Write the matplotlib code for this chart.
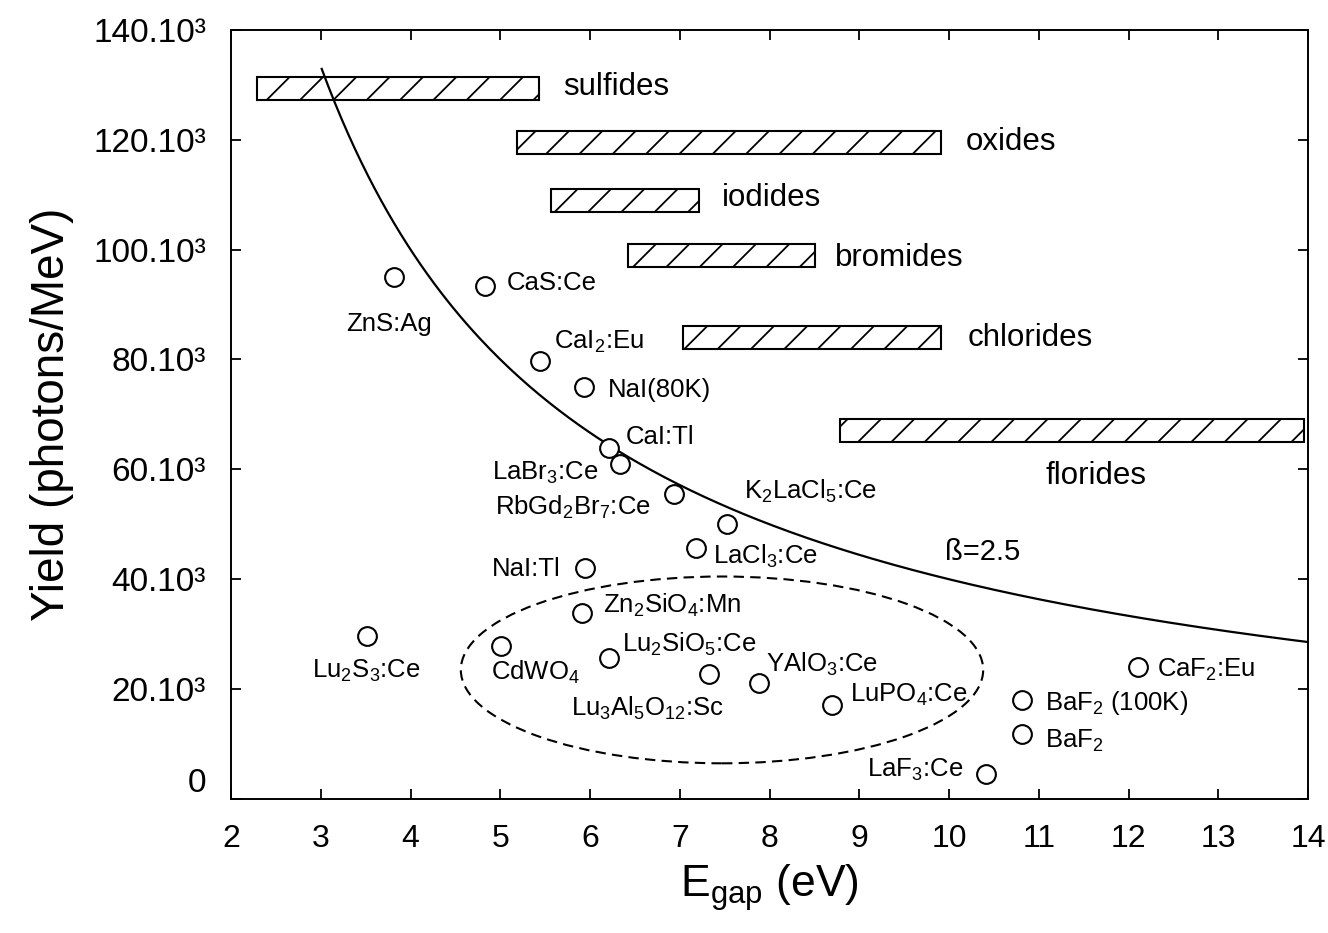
import matplotlib
matplotlib.use('Agg')
import matplotlib.pyplot as plt
import matplotlib as mpl
import numpy as np
from matplotlib.patches import Rectangle, Ellipse

mpl.rcParams['font.family'] = ['Liberation Sans', 'DejaVu Sans']
mpl.rcParams['mathtext.fontset'] = 'custom'
mpl.rcParams['mathtext.rm'] = 'Liberation Sans'
mpl.rcParams['mathtext.it'] = 'Liberation Sans:italic'
mpl.rcParams['hatch.linewidth'] = 1.3

# scintillators: E_gap (eV), light yield (photons/MeV)
names = ['ZnS:Ag', 'CaS:Ce', r'CaI$\mathregular{_2}$:Eu', 'NaI(80K)', 'CaI:Tl',
         r'LaBr$\mathregular{_3}$:Ce', r'RbGd$\mathregular{_2}$Br$\mathregular{_7}$:Ce',
         r'K$\mathregular{_2}$LaCl$\mathregular{_5}$:Ce', r'LaCl$\mathregular{_3}$:Ce', 'NaI:Tl',
         r'Zn$\mathregular{_2}$SiO$\mathregular{_4}$:Mn', r'CdWO$\mathregular{_4}$',
         r'Lu$\mathregular{_2}$SiO$\mathregular{_5}$:Ce',
         r'Lu$\mathregular{_3}$Al$\mathregular{_5}$O$\mathregular{_{12}}$:Sc',
         r'YAlO$\mathregular{_3}$:Ce', r'LuPO$\mathregular{_4}$:Ce', r'LaF$\mathregular{_3}$:Ce',
         r'BaF$\mathregular{_2}$ (100K)', r'BaF$\mathregular{_2}$', r'CaF$\mathregular{_2}$:Eu',
         r'Lu$\mathregular{_2}$S$\mathregular{_3}$:Ce']
egap = [3.81, 4.83, 5.44, 5.93, 6.21, 6.33, 6.93, 7.53, 7.18, 5.94,
        5.91, 5.01, 6.21, 7.33, 7.88, 8.70, 10.41, 10.81, 10.81, 12.11, 3.51]
yld = [95.0e3, 93.3e3, 79.8e3, 75.0e3, 63.9e3, 61.0e3, 55.5e3, 50.1e3, 45.6e3, 42.0e3,
       33.9e3, 27.8e3, 25.7e3, 22.7e3, 21.2e3, 17.2e3, 4.5e3, 18.0e3, 11.8e3, 24.1e3, 29.7e3]

# label placement: offset in points from the marker, horizontal alignment
lab_off = [(-3.6, -39), (15.4, -2.9), (10, 8.4), (17.5, -7.2), (12.2, 2.9),
           (-15.1, -11.5), (-16.3, -15.1), (12, 18), (12.5, -10.8), (-17.3, -5.8),
           (14.8, 0), (-7.4, -23.8), (9.1, 4.3), (-100, -30), (5, 7.6), (12.5, 1.9),
           (-16.3, -1.9), (16.8, -7.2), (16.8, -10.1), (13.2, -7.2), (0, -30)]
lab_ha = ['center', 'left', 'left', 'left', 'left', 'right', 'right', 'left', 'left', 'right',
          'left', 'left', 'left', 'left', 'left', 'left', 'right', 'left', 'left', 'left', 'center']

# material classes: gap range and yield level
classes = ['sulfides', 'oxides', 'iodides', 'bromides', 'chlorides', 'florides']
cls_x0 = [2.29, 5.19, 5.56, 6.42, 7.04, 8.79]
cls_x1 = [5.43, 9.91, 7.21, 8.51, 9.91, 13.95]
cls_y = [129.3e3, 119.5e3, 109.0e3, 98.9e3, 84.0e3, 67.1e3]
bar_h = 4.2e3
cls_lab_xy = [(5.70, 128.2e3), (10.19, 118.1e3), (7.47, 108.0e3),
              (8.73, 97.1e3), (10.21, 82.4e3), (11.07, 57.4e3)]

beta = 2.5
e_curve = np.linspace(3.01, 14, 300)
y_curve = 1e6 / (beta * e_curve)

yticks = [0, 20e3, 40e3, 60e3, 80e3, 100e3, 120e3, 140e3]
ytick_labels = ['0', '20.10³', '40.10³', '60.10³', '80.10³', '100.10³', '120.10³', '140.10³']

fig = plt.figure(figsize=(13.28, 9.33), dpi=100)
ax = fig.add_axes([0.174, 0.1436, 0.811, 0.8244])
ax.set_xlim(2, 14)
ax.set_ylim(0, 140e3)

for x0, x1, yc in zip(cls_x0, cls_x1, cls_y):
    ax.add_patch(Rectangle((x0, yc - bar_h / 2), x1 - x0, bar_h, facecolor='white',
                           edgecolor='black', hatch='/', lw=1.5))
for c, (tx, ty) in zip(classes, cls_lab_xy):
    ax.text(tx, ty, c, fontsize=22.5, ha='left', va='baseline')

ax.plot(e_curve, y_curve, 'k-', lw=1.6)
ax.text(9.955, 43.5e3, 'ß=%.1f' % beta, fontsize=21, ha='left', va='baseline')

ax.add_patch(Ellipse((7.47, 23.5e3), 5.82, 34e3, fill=False, edgecolor='black',
                     lw=1.5, linestyle=(0, (5, 3))))

ax.plot(egap, yld, 'o', ms=13.5, mfc='white', mec='black', mew=1.5, zorder=5)
for n, x, y, off, ha in zip(names, egap, yld, lab_off, lab_ha):
    ax.annotate(n, (x, y), xytext=off, textcoords='offset points', ha=ha, va='baseline',
                fontsize=18.5)

ax.set_xticks(range(2, 15))
ax.set_yticks(yticks, ytick_labels)
ax.tick_params(direction='in', top=True, right=True, length=7.5, width=1.3,
               pad=18, labelsize=23)
ax.tick_params(axis='y', labelsize=24)
ax.get_yticklabels()[0].set_verticalalignment('bottom')
for s in ax.spines.values():
    s.set_linewidth(1.4)

ax.set_xlabel(r'E$\mathregular{_{gap}}$ (eV)', fontsize=32, labelpad=6)
ax.set_ylabel('Yield (photons/MeV)', fontsize=33, labelpad=14)

fig.savefig('out.png', dpi=100)
